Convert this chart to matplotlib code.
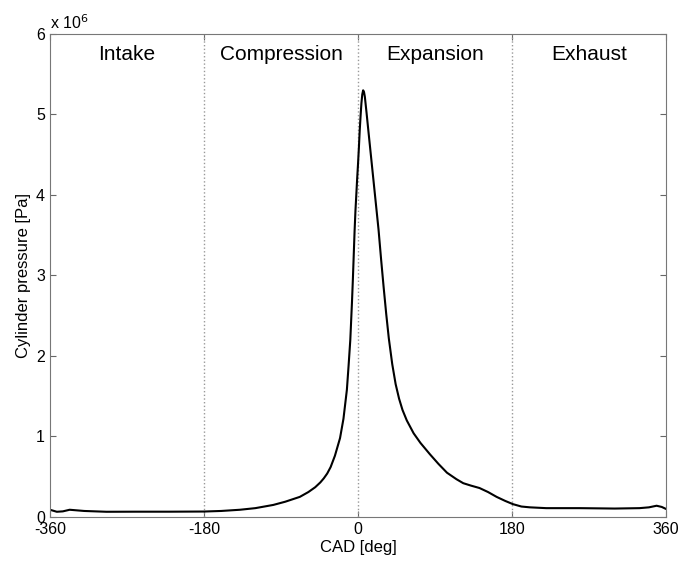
import matplotlib
matplotlib.use("Agg")
import matplotlib.pyplot as plt

plt.rcParams["font.family"] = ["Liberation Sans", "DejaVu Sans"]
plt.rcParams["axes.unicode_minus"] = False

# crank angle [deg] and cylinder pressure [x 1e6 Pa]
cad = [-360, -352, -345, -337, -320, -294, -260, -220, -180, -160, -138, -120,
       -99, -85, -68, -58, -50, -44, -40, -36, -32, -27, -21, -17, -13, -11,
       -9, -7, -6, -5, -4, -3, -2, -1, 0, 1, 2, 3, 4, 5, 6, 7, 8, 10, 12, 15,
       18, 21, 24, 27, 30, 33, 36, 40, 44, 48, 52, 57, 65, 73, 84, 94, 104,
       115, 123, 132, 142, 152, 162, 172, 181, 191, 201, 220, 259, 300, 329,
       340, 349, 355, 360]
pressure = [0.09, 0.065, 0.07, 0.09, 0.075, 0.065, 0.066, 0.066, 0.068, 0.075,
            0.09, 0.11, 0.15, 0.19, 0.25, 0.31, 0.37, 0.43, 0.48, 0.54, 0.62,
            0.76, 0.98, 1.22, 1.58, 1.88, 2.2, 2.68, 2.95, 3.25, 3.55, 3.8,
            4.0, 4.2, 4.38, 4.58, 4.8, 4.98, 5.14, 5.25, 5.3, 5.28, 5.22, 5.02,
            4.81, 4.5, 4.19, 3.88, 3.57, 3.2, 2.85, 2.52, 2.22, 1.9, 1.65, 1.47,
            1.33, 1.2, 1.04, 0.92, 0.78, 0.66, 0.55, 0.47, 0.42, 0.39, 0.36,
            0.31, 0.25, 0.2, 0.16, 0.13, 0.12, 0.11, 0.11, 0.105, 0.11, 0.12,
            0.14, 0.125, 0.1]

phases = ["Intake", "Compression", "Expansion", "Exhaust"]
phase_centres = [-270, -90, 90, 270]
boundaries = [-180, 0, 180]
xticks = [-360, -180, 0, 180, 360]
yticks = [0, 1, 2, 3, 4, 5, 6]

fig = plt.figure(figsize=(6.81, 5.63), dpi=100)
ax = fig.add_axes([0.0734, 0.0817, 0.9046, 0.858])

for b in boundaries:
    ax.axvline(b, color="#999999", linestyle=":", linewidth=1.0)

ax.plot(cad, pressure, color="black", linewidth=1.5)

for name, xc in zip(phases, phase_centres):
    ax.text(xc, 5.74, name, ha="center", va="center", fontsize=15)

ax.set_xlim(-360, 360)
ax.set_ylim(0, 6)
ax.set_xticks(xticks)
ax.set_yticks(yticks)
ax.tick_params(direction="in", top=True, right=True, labelsize=11.5,
               color="#666666", length=4)
for s in ax.spines.values():
    s.set_color("#777777")

ax.text(0.0, 1.005, r"x 10$^6$", transform=ax.transAxes, fontsize=11.5,
        ha="left", va="bottom")
ax.set_xlabel("CAD [deg]", fontsize=12, labelpad=2)
ax.set_ylabel("Cylinder pressure [Pa]", fontsize=12, labelpad=4)

fig.savefig("out.png", dpi=100)
